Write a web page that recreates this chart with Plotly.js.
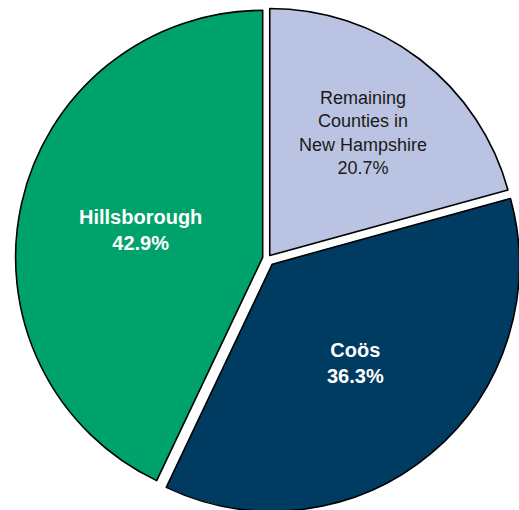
<!DOCTYPE html>
<html>
<head>
<meta charset="utf-8">
<script src="https://cdn.plot.ly/plotly-3.0.1.min.js"></script>
<style>
html, body { margin: 0; padding: 0; overflow: hidden; background: #ffffff; width: 519px; height: 510px; }
#chart { position: absolute; left: 0; top: 0; }
</style>
</head>
<body>
<div id="chart"></div>
<script>
// Data
const labels = ['Remaining<br>Counties in<br>New Hampshire', 'Coös', 'Hillsborough'];
const values = [20.7, 36.3, 42.9];
const sliceColors = ['#BAC4E2', '#003B62', '#00A26B'];
const textColors = ['#1a1a1a', '#ffffff', '#ffffff'];
const textSizes = [18, 20, 20];
const templates = ['%{label}<br>%{value:.1f}%', '<b>%{label}<br>%{value:.1f}%</b>', '<b>%{label}<br>%{value:.1f}%</b>'];
const pulls = [0.015, 0.03, 0.02];

const trace = {
  type: 'pie',
  labels: labels,
  values: values,
  sort: false,
  direction: 'clockwise',
  rotation: 0,
  pull: pulls,
  marker: { colors: sliceColors, line: { color: '#000000', width: 1.6 } },
  texttemplate: templates,
  textinfo: 'text',
  textposition: 'inside',
  insidetextorientation: 'horizontal',
  textfont: { family: '"Liberation Sans", Arial, sans-serif', color: textColors, size: textSizes },
  hoverinfo: 'none',
  showlegend: false
};

const layout = {
  width: 522,
  height: 513,
  margin: { l: 13, t: 4, r: 0, b: 0, pad: 0 },
  paper_bgcolor: '#ffffff',
  plot_bgcolor: '#ffffff',
  showlegend: false
};

Plotly.newPlot('chart', [trace], layout, { displayModeBar: false, staticPlot: true });
</script>
</body>
</html>
